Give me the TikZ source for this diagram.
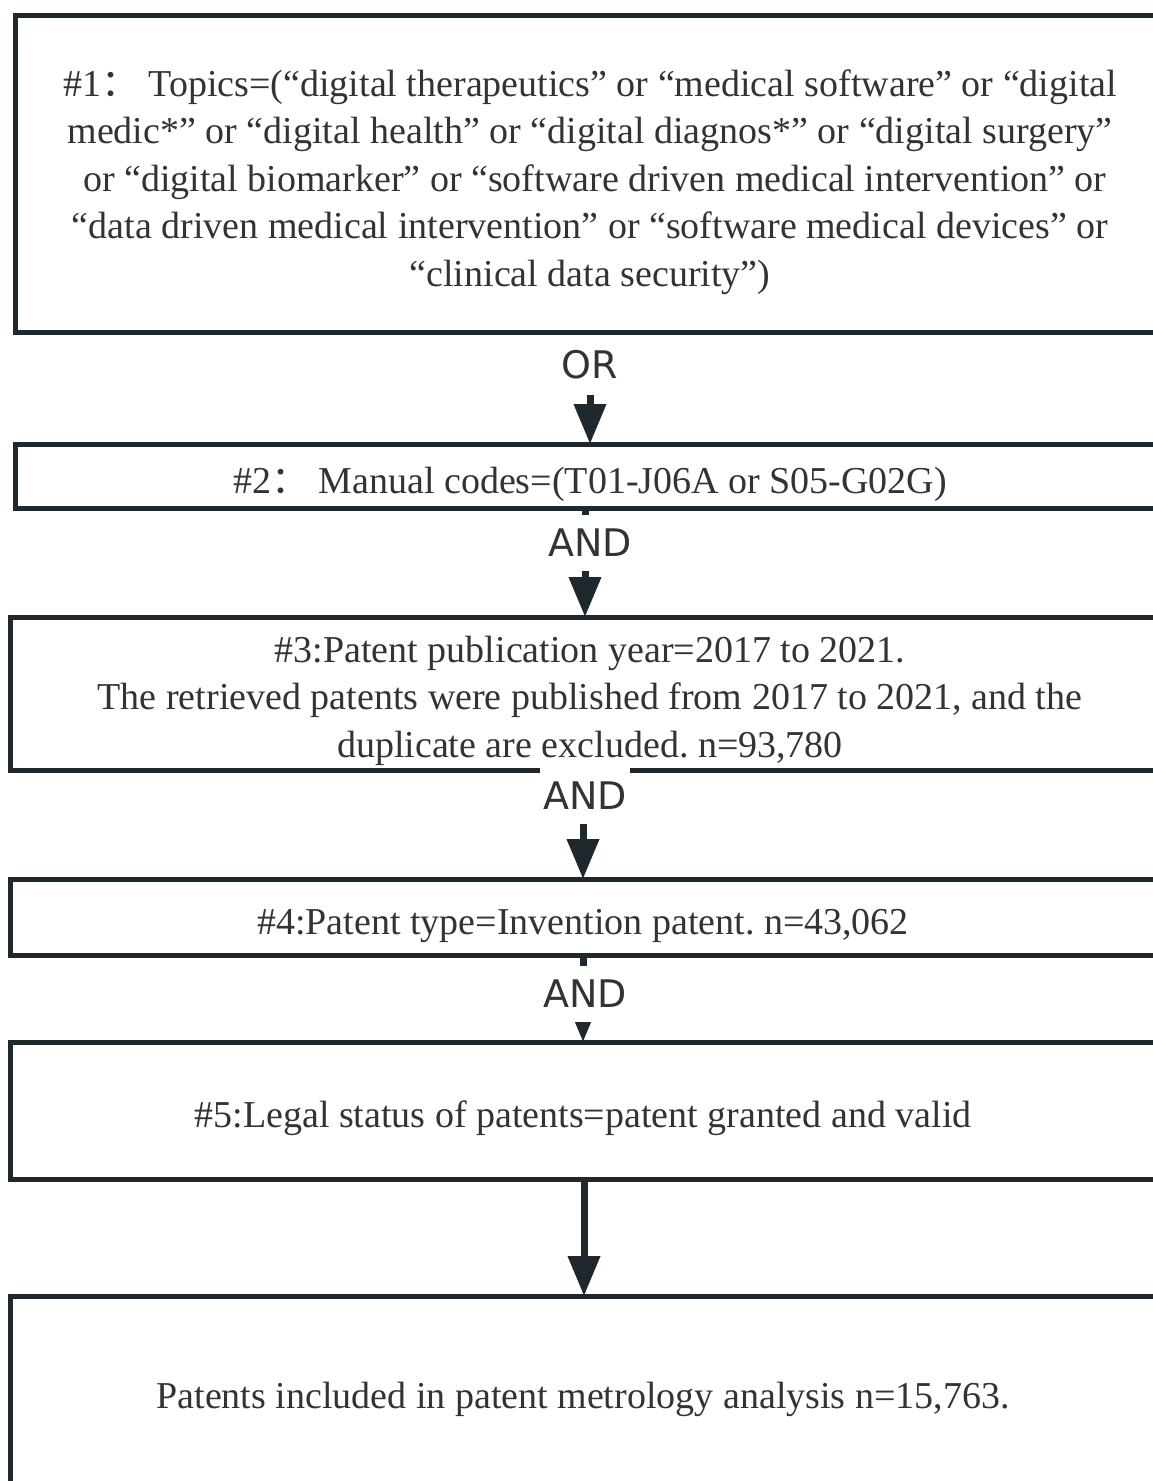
\documentclass[tikz,border=0pt]{standalone}
\usepackage{fontspec}
\setmainfont{Liberation Serif}
\newfontfamily\labelfont{DejaVu Sans}
\newfontfamily\cjk{Noto Sans CJK SC}
\usetikzlibrary{arrows.meta}
\definecolor{linec}{HTML}{1E282D}
\definecolor{textc}{HTML}{333333}
\frenchspacing
\tikzset{
  box/.style={draw=linec, line width=5pt, inner sep=0pt, outer sep=0pt},
  txt/.style={font=\fontsize{38}{47.5}\selectfont, text=textc, inner sep=0pt, anchor=base},
  arr/.style={draw=linec, line width=7pt, -{Triangle[width=31pt,length=40pt]}},
  lab/.style={fill=white, font=\labelfont\fontsize{38}{38}\selectfont, text=textc, inner xsep=3pt, inner ysep=0pt, minimum height=56pt}
}
\begin{document}
\begin{tikzpicture}[x=1pt,y=-1pt]
\useasboundingbox (0,0) rectangle (1153,1481);
\clip (0,0) rectangle (1153,1481);
\fill[white] (0,0) rectangle (1153,1481);

% boxes
\node[box, minimum width=1150pt, minimum height=317pt] (b1) at (590,173.5) {};
\node[box, minimum width=1150pt, minimum height=64pt] (b2) at (590,476) {};
\node[box, minimum width=1160pt, minimum height=153pt] (b3) at (590,693.5) {};
\node[box, minimum width=1160pt, minimum height=76pt] (b4) at (590,917) {};
\node[box, minimum width=1160pt, minimum height=137pt] (b5) at (590,1110.5) {};
\node[box, minimum width=1160pt, minimum height=224pt] (b6) at (590,1408) {};

% texts
\node[txt] (t1) at (590,96) {\begin{tabular}[t]{@{}c@{}}%
\#1{\cjk ：} Topics=(“digital therapeutics” or “medical software” or “digital\\
medic*” or “digital health” or “digital diagnos*” or “digital surgery”\\
\ or “digital biomarker” or “software driven medical intervention” or\\
“data driven medical intervention” or “software medical devices” or\\
“clinical data security”)\end{tabular}};
\node[txt] (t2) at (590,493) {\#2{\cjk ：} Manual codes=(T01-J06A or S05-G02G)};
\node[txt] (t3) at (590,662) {\begin{tabular}[t]{@{}c@{}}%
\#3:Patent publication year=2017 to 2021.\\
The retrieved patents were published from 2017 to 2021, and the\\
duplicate are excluded. n=93,780\end{tabular}};
\node[txt] (t4) at (583,934) {\#4:Patent type=Invention patent. n=43,062};
\node[txt] (t5) at (583,1127) {\#5:Legal status of patents=patent granted and valid};
\node[txt] (t6) at (583,1408) {Patents included in patent metrology analysis n=15,763.};

% arrows
\draw[arr] (b1.south) -- (b2.north);
\draw[arr] ([xshift=-5pt]b2.south) -- ([xshift=-5pt]b3.north);
\draw[arr] ([xshift=-7pt]b3.south) -- ([xshift=-7pt]b4.north);
\draw[arr] ([xshift=-7pt]b4.south) -- ([xshift=-7pt]b5.north);
\draw[arr] ([xshift=-6pt]b5.south) -- ([xshift=-6pt]b6.north);

% labels
\node[lab, minimum height=60pt] (or) at (590,364.5) {OR};
\node[lab] (and1) at (590,542.5) {AND};
\node[lab] (and2) at (585,795.5) {AND};
\node[lab] (and3) at (585,994) {AND};
\end{tikzpicture}
\end{document}
